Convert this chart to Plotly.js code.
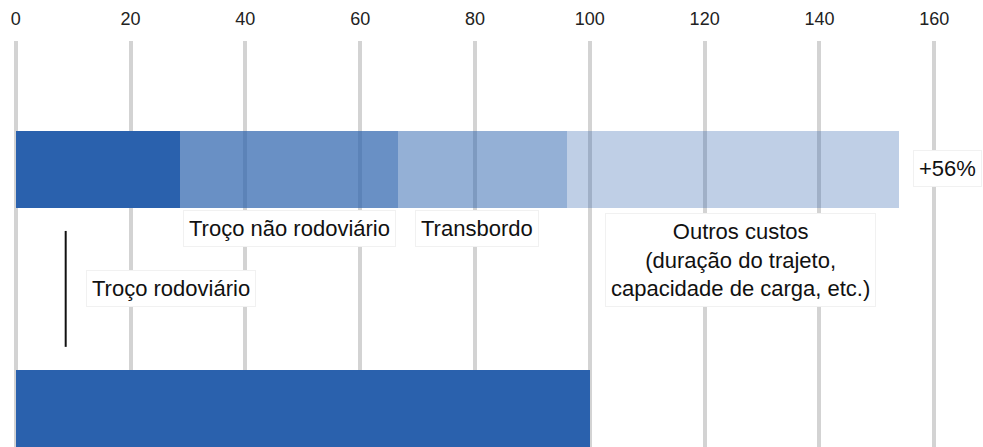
<!DOCTYPE html>
<html>
<head>
<meta charset="utf-8">
<script src="https://cdn.plot.ly/plotly-3.0.1.min.js"></script>
<style>html,body{margin:0;padding:0;background:#fff;}#chart{width:983px;height:447px;}</style>
</head>
<body>
<div id="chart"></div>
<script>
// Data
var rows = ['Multimodal', 'Rodoviário'];
var segmentNames = ['Troço rodoviário', 'Troço não rodoviário', 'Transbordo', 'Outros custos'];
var multimodalValues = [28.6, 37.9, 29.5, 57.9];
var roadValues = [100];
var segmentAlpha = [1, 0.7, 0.5, 0.3];
var tickValues = [0, 20, 40, 60, 80, 100, 120, 140, 160];
var increaseLabel = '+56%';

var base = [42, 97, 173];
function rgba(a) { return 'rgba(' + base[0] + ',' + base[1] + ',' + base[2] + ',' + a + ')'; }

var traces = [];
for (var i = 0; i < multimodalValues.length; i++) {
  traces.push({
    type: 'bar', orientation: 'h',
    name: segmentNames[i],
    y: [1], x: [multimodalValues[i]],
    width: 0.322,
    marker: {color: rgba(segmentAlpha[i]), line: {width: 0}},
    hoverinfo: 'skip', showlegend: false
  });
}
traces.push({
  type: 'bar', orientation: 'h',
  name: 'Rodoviário',
  y: [0], x: roadValues,
  width: 0.322,
  marker: {color: rgba(1), line: {width: 0}},
  hoverinfo: 'skip', showlegend: false
});

var fontFam = 'Liberation Sans, Arial, sans-serif';
function ann(text, x, y, xref) {
  return {
    text: text, x: x, y: y, xref: xref || 'x', yref: 'y', showarrow: false,
    xanchor: 'center', yanchor: 'middle',
    font: {family: fontFam, size: 22, color: '#111'},
    bgcolor: '#ffffff', bordercolor: '#f1f1f1', borderwidth: 1, borderpad: 5,
    align: 'center'
  };
}

var layout = {
  width: 983, height: 447,
  margin: {l: 10, r: 43, t: 41, b: 0},
  paper_bgcolor: '#fff', plot_bgcolor: '#fff',
  barmode: 'stack', bargap: 0,
  showlegend: false,
  xaxis: {
    side: 'top', range: [-1, 161],
    tickvals: tickValues, ticktext: tickValues.map(String),
    showgrid: true, gridcolor: '#d3d3d3', gridwidth: 4,
    zeroline: false, showline: false, ticks: '',
    ticklabelstandoff: 11,
    tickfont: {family: fontFam, size: 18, color: '#222'}
  },
  yaxis: {
    range: [-0.161, 1.5377],
    showgrid: false, zeroline: false, showline: false,
    showticklabels: false, ticks: ''
  },
  shapes: [{
    type: 'line', xref: 'x', yref: 'y',
    x0: 8.7, x1: 8.7, y0: 0.258, y1: 0.743,
    line: {color: '#111', width: 2}
  }],
  annotations: [
    ann('Troço não rodoviário', 47.6, 0.755),
    ann('Transbordo', 80.3, 0.755),
    ann('Outros custos<br>(duração do trajeto,<br>capacidade de carga, etc.)', 126.2, 0.621),
    ann('Troço rodoviário', 27.0, 0.504),
    ann(increaseLabel, 1.008, 1.006, 'paper')
  ]
};

Plotly.newPlot('chart', traces, layout, {staticPlot: true, displayModeBar: false});
</script>
</body>
</html>
